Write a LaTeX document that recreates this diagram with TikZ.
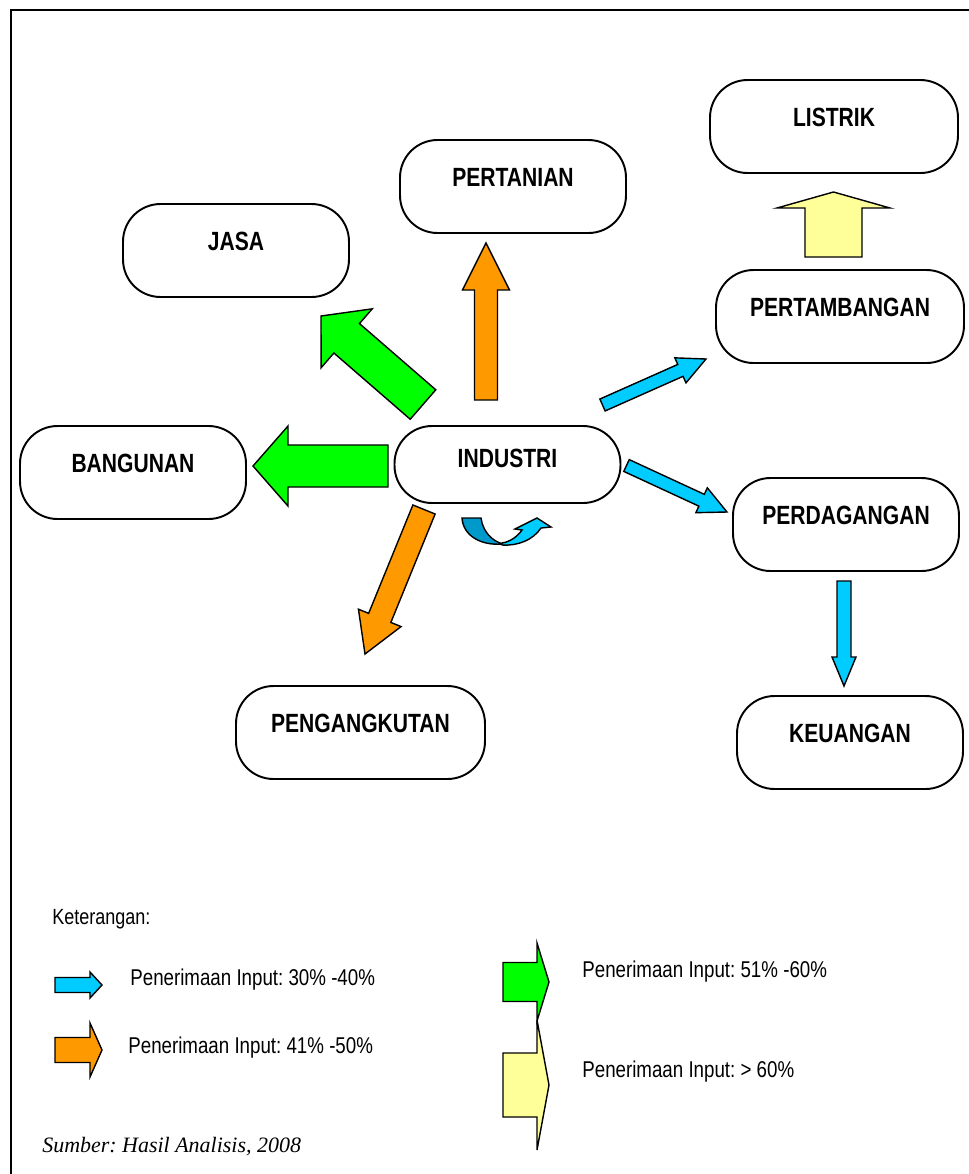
\documentclass[tikz,border=0pt]{standalone}
\usepackage{fontspec}
\setmainfont{Liberation Sans}
\newfontfamily\boxfont[FakeStretch=0.8]{Liberation Sans}
\newfontfamily\notefont[FakeStretch=0.82]{Liberation Sans}
\newfontfamily\srcfont{Liberation Serif}
\usepackage{tikz}
\usetikzlibrary{calc}
\frenchspacing
\definecolor{arrcyan}{RGB}{0,204,255}
\definecolor{arrdark}{RGB}{0,153,204}
\definecolor{arrorange}{RGB}{255,153,0}
\definecolor{arrgreen}{RGB}{0,255,0}
\definecolor{arryellow}{RGB}{255,255,153}

\tikzset{
  sector/.style={draw, line width=1.1pt, rounded corners=0.75cm,
    minimum width=4.52cm, minimum height=1.86cm, inner sep=0pt,
    font=\boxfont\bfseries\fontsize{15}{18}\selectfont,
    text height=12pt, text depth=11.5pt},
  blockline/.style={draw, line width=0.8pt, line join=miter},
  notetext/.style={anchor=west, inner sep=0pt,
    font=\notefont\fontsize{13}{16}\selectfont},
}

% block arrow: tail, tip, shaft half width, head half width, head length (px), fill
\newcommand{\blockarrow}[6]{%
  \coordinate (hb) at ($(#2)!#5*0.02cm!(#1)$);
  \draw[blockline, fill=#6]
    ($(#1)!#3*0.02cm!90:(#2)$) -- ($(hb)!#3*0.02cm!90:(#2)$)
    -- ($(hb)!#4*0.02cm!90:(#2)$) -- (#2)
    -- ($(hb)!#4*0.02cm!-90:(#2)$) -- ($(hb)!#3*0.02cm!-90:(#2)$)
    -- ($(#1)!#3*0.02cm!-90:(#2)$) -- cycle;
}

\begin{document}
\begin{tikzpicture}[x=0.02cm, y=-0.02cm]
    \useasboundingbox (0,0) rectangle (969,1174);

    % Frame
    \draw[line width=1.1pt] (11,1174) -- (11,10) -- (969,10);

    % Sectors
    \node[sector, minimum width=4.96cm] (listrik) at (834,126.5) {LISTRIK};
    \node[sector] (pertanian) at (513,186.5) {PERTANIAN};
    \node[sector] (jasa) at (236,250.5) {JASA};
    \node[sector, minimum width=4.96cm] (pertambangan) at (840,316.5) {PERTAMBANGAN};
    \node[sector, minimum height=1.54cm, text depth=9pt] (industri) at (507.5,464.5) {INDUSTRI};
    \node[sector] (bangunan) at (133,472.5) {BANGUNAN};
    \node[sector] (perdagangan) at (846,524.5) {PERDAGANGAN};
    \node[sector, minimum width=4.98cm] (pengangkutan) at (360.5,732.5) {PENGANGKUTAN};
    \node[sector] (keuangan) at (850,742.5) {KEUANGAN};

    % Arrow ends
    \coordinate (pta-s) at (486,400);     \coordinate (pta-e) at (486,243);
    \coordinate (jas-s) at (423,404.5);   \coordinate (jas-e) at (321,316);
    \coordinate (ban-s) at (388,466);     \coordinate (ban-e) at (253,466);
    \coordinate (png-s) at (424,509.5);   \coordinate (png-e) at (365,654);
    \coordinate (ptb-s) at (602.5,405);   \coordinate (ptb-e) at (706,359);
    \coordinate (pdg-s) at (626.5,465.5); \coordinate (pdg-e) at (727,512);
    \coordinate (keu-s) at (844,581);     \coordinate (keu-e) at (844,686);
    \coordinate (lis-s) at (833.5,257);   \coordinate (lis-e) at (833.5,192);

    % Flows out of industri
    \blockarrow{pta-s}{pta-e}{11.5}{23.5}{47}{arrorange}
    \blockarrow{jas-s}{jas-e}{19.5}{39}{34}{arrgreen}
    \blockarrow{ban-s}{ban-e}{21}{40}{35}{arrgreen}
    \blockarrow{png-s}{png-e}{12}{23}{39}{arrorange}
    \blockarrow{ptb-s}{ptb-e}{6.5}{13.7}{28}{arrcyan}
    \blockarrow{pdg-s}{pdg-e}{6.5}{13.7}{28}{arrcyan}
    % Further flows
    \blockarrow{keu-s}{keu-e}{7}{12}{29}{arrcyan}
    \blockarrow{lis-s}{lis-e}{28.5}{56.5}{16}{arryellow}

    % Industri back into itself
    \draw[blockline, fill=arrdark] (462,518) -- (481,518)
        .. controls (483,532) and (492,541) .. (503,544)
        .. controls (480,546) and (463,535) .. (462,518) -- cycle;
    \draw[blockline, fill=arrcyan] (502,543)
        .. controls (510,542) and (518,536) .. (522,530)
        -- (515,529) -- (537,518) -- (551,527) -- (541,528)
        .. controls (533,540) and (518,546) .. (502,545) -- cycle;

    % Legend
    \node[notetext, font=\notefont\fontsize{12.5}{15}\selectfont] (ket) at (52,919) {Keterangan:};
    \coordinate (lg1-s) at (55,985);  \coordinate (lg1-e) at (102,985);
    \coordinate (lg2-s) at (55,1050); \coordinate (lg2-e) at (102,1050);
    \coordinate (lg3-s) at (503,982); \coordinate (lg3-e) at (549,982);
    \coordinate (lg4-s) at (503,1085); \coordinate (lg4-e) at (549,1085);
    \blockarrow{lg1-s}{lg1-e}{7.5}{13}{12}{arrcyan}
    \blockarrow{lg2-s}{lg2-e}{12.5}{27}{12}{arrorange}
    \blockarrow{lg4-s}{lg4-e}{32}{65}{12}{arryellow}
    \blockarrow{lg3-s}{lg3-e}{19.5}{39}{12}{arrgreen}
    \node[notetext] (lg1) at (130,980) {Penerimaan Input: 30\% -40\%};
    \node[notetext] (lg2) at (128,1048) {Penerimaan Input: 41\% -50\%};
    \node[notetext] (lg3) at (582,972) {Penerimaan Input: 51\% -60\%};
    \node[notetext] (lg4) at (582,1072) {Penerimaan Input: > 60\%};

    % Source
    \node[anchor=west, inner sep=0pt, font=\srcfont\itshape\fontsize{12.5}{15}\selectfont] (src) at (42,1147) {Sumber: Hasil Analisis, 2008};
\end{tikzpicture}
\end{document}
